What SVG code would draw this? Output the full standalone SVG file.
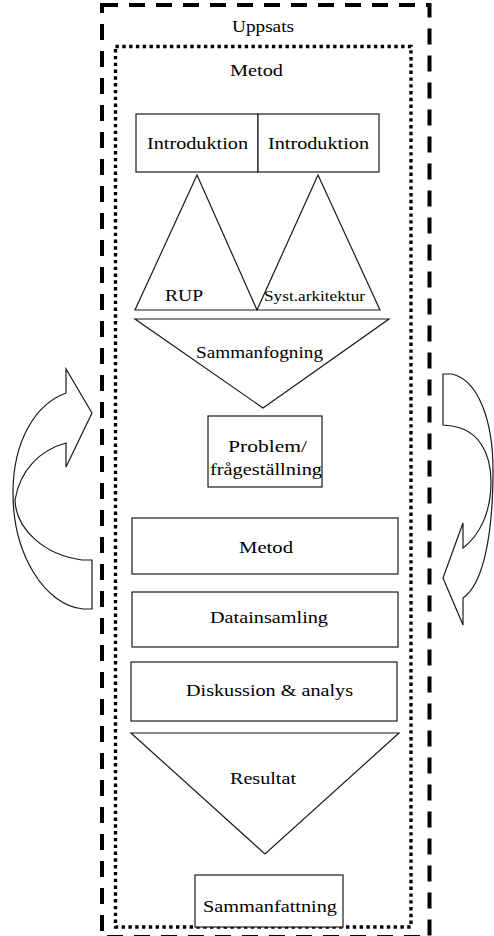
<svg xmlns="http://www.w3.org/2000/svg" width="494" height="936" viewBox="0 0 494 936">
  <style>
    .bg { fill: #ffffff; }
    .shape { fill: #ffffff; stroke: #1a1a1a; stroke-width: 1.2; }
    .line { fill: none; stroke: #1a1a1a; stroke-width: 1.2; }
    .outer { fill: none; stroke: #000; stroke-width: 4; stroke-dasharray: 16 11; }
    .inner { fill: none; stroke: #000; stroke-width: 3.4; stroke-dasharray: 3.4 3.4; }
    .lbl { font-family: "Liberation Serif", "Times New Roman", serif; font-size: 17px; fill: #000; text-anchor: start; }
    .small { font-size: 14px; }
  </style>

  <rect class="bg" x="0" y="0" width="494" height="936"/>

  <!-- Frame: whole thesis -->
  <g id="uppsats">
    <rect class="outer" x="102" y="5" width="327.5" height="932"/>
    <text class="lbl" x="232" y="32" textLength="62" lengthAdjust="spacingAndGlyphs">Uppsats</text>
  </g>

  <!-- Frame: method -->
  <g id="metod-ram">
    <rect class="inner" x="115.5" y="46.5" width="295.5" height="880.5"/>
    <text class="lbl" x="230" y="76" textLength="53" lengthAdjust="spacingAndGlyphs">Metod</text>
  </g>

  <!-- Two introductions -->
  <g id="introduktion-1">
    <rect class="shape" x="136" y="114" width="122" height="58"/>
    <text class="lbl" x="147" y="149" textLength="101" lengthAdjust="spacingAndGlyphs">Introduktion</text>
  </g>
  <g id="introduktion-2">
    <rect class="shape" x="258" y="114" width="121" height="58"/>
    <text class="lbl" x="268" y="149" textLength="101" lengthAdjust="spacingAndGlyphs">Introduktion</text>
  </g>

  <!-- Theory triangles -->
  <g id="rup">
    <polygon class="shape" points="197,175 257,310 135,310"/>
    <text class="lbl" x="165" y="301" textLength="38" lengthAdjust="spacingAndGlyphs">RUP</text>
  </g>
  <g id="systemarkitektur">
    <polygon class="shape" points="318,175 380,310 257,310"/>
    <text class="lbl small" x="264" y="301" textLength="101" lengthAdjust="spacingAndGlyphs">Syst.arkitektur</text>
  </g>

  <!-- Merge -->
  <g id="sammanfogning">
    <polygon class="shape" points="135,319 389,319 263,408"/>
    <text class="lbl" x="196" y="358" textLength="127" lengthAdjust="spacingAndGlyphs">Sammanfogning</text>
  </g>

  <g id="problem">
    <rect class="shape" x="208" y="416" width="114" height="71"/>
    <text class="lbl" x="228" y="452" textLength="79" lengthAdjust="spacingAndGlyphs">Problem/</text>
    <text class="lbl" x="210" y="475" textLength="112" lengthAdjust="spacingAndGlyphs">frågeställning</text>
  </g>

  <g id="metod">
    <rect class="shape" x="132" y="518" width="266" height="56"/>
    <text class="lbl" x="239" y="553" textLength="54" lengthAdjust="spacingAndGlyphs">Metod</text>
  </g>

  <g id="datainsamling">
    <rect class="shape" x="132" y="592" width="266" height="55"/>
    <text class="lbl" x="210" y="623" textLength="118" lengthAdjust="spacingAndGlyphs">Datainsamling</text>
  </g>

  <g id="diskussion">
    <rect class="shape" x="131" y="662" width="266" height="59"/>
    <text class="lbl" x="186" y="696" textLength="167" lengthAdjust="spacingAndGlyphs">Diskussion &amp; analys</text>
  </g>

  <g id="resultat">
    <polygon class="shape" points="131,733 399,733 265,854"/>
    <text class="lbl" x="230" y="784" textLength="66" lengthAdjust="spacingAndGlyphs">Resultat</text>
  </g>

  <g id="sammanfattning">
    <rect class="shape" x="195" y="875" width="148" height="52"/>
    <text class="lbl" x="203" y="912" textLength="134" lengthAdjust="spacingAndGlyphs">Sammanfattning</text>
  </g>

  <!-- Iteration arrows on both sides -->
  <g id="connectors">
    <path class="shape" d="M92,413 L66,369 L66,393 C36,404 13,440 13,493 C13,555 45,605 83,609 L92,609 L92,560 L82,560 C45,555 16,530 15,500 C20,470 40,450 66,443 L66,467 Z"/>
    <path class="shape" d="M443,374 L452,374 C478,380 493,420 493,470 C493,540 482,585 463,598 L463,625 L443,578 L463,523 L463,548 C480,535 491,512 491,482 C491,452 478,430 452,426 L443,425 Z"/>
  </g>
</svg>
